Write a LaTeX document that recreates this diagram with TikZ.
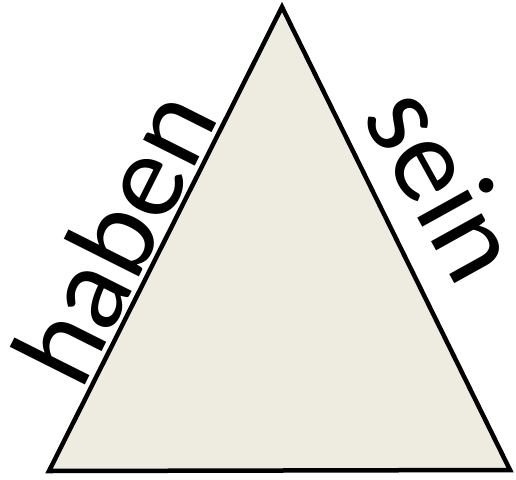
\documentclass[tikz,border=0pt]{standalone}
\usepackage{fontspec}
\setmainfont{Carlito}
\definecolor{sandfill}{HTML}{EEECE1}
\begin{document}
\begin{tikzpicture}[x=1pt, y=-1pt,
  edge/.style={draw=black, line width=4.5pt, line join=miter, fill=sandfill},
  verb/.style={inner sep=0pt, anchor=south,
    font=\fontsize{121}{121}\selectfont}
]
  \useasboundingbox (0,0) rectangle (516,479);

  % corners of the triangle
  \coordinate (left) at (49,471);
  \coordinate (right) at (510,470);
  \coordinate (top) at (282,7);

  \path[edge] (left) -- (top) -- (right) -- cycle;

  % words along the two sides
  \path (left) -- (top) node[verb, sloped, pos=0.46, yshift=5pt] (haben) {haben};
  \node[verb, rotate=-61] (sein) at (409,204) {sein};
\end{tikzpicture}
\end{document}
